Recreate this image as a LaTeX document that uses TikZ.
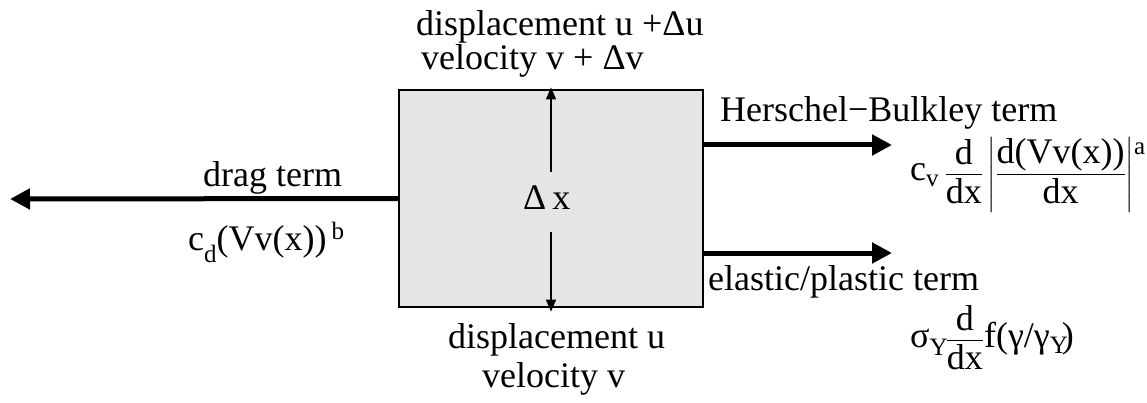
\documentclass[tikz,border=0pt]{standalone}
\usepackage{amsmath}
\usepackage{fontspec}
\setmainfont{Liberation Serif}
\usetikzlibrary{arrows.meta}
\newcommand{\sbx}[2]{\raisebox{#1}{\fontsize{25}{25}\selectfont #2}}
\begin{document}
\begin{tikzpicture}[x=1pt,y=-1pt,
  lbl/.style={inner sep=0pt, anchor=base west, font=\fontsize{36}{40}\selectfont},
  bigarrow/.style={line width=5pt, -{Triangle[length=20pt,width=20pt]}},
  thinarrow/.style={line width=1.5pt, -{Triangle[length=12pt,width=10pt]}},
  cell/.style={draw=black, line width=1.2pt, fill=gray!20, minimum width=304pt, minimum height=217pt, inner sep=0pt}]
\useasboundingbox (0,0) rectangle (1147,403);
% element
\node[cell] (box) at (551,198.5) {};
% labels
\node[lbl] (top1) at (416,36) {displacement u +Δu};
\node[lbl] (top2) at (421,70) {velocity v + Δv};
\node[lbl] (bot1) at (448,348) {displacement u};
\node[lbl] (bot2) at (482,387) {velocity v};
\node[lbl] (dx) at (523,210) {Δ\hspace{6pt}x};
\node[lbl] (drag) at (203,187) {drag term};
\node[lbl] (dragf) at (188,250) {c\sbx{-13pt}{d}(Vv(x))\hspace{5pt}\sbx{10pt}{b}};
\node[lbl] (hb) at (720,122) {Herschel−Bulkley term};
\node[lbl] (hbf) at (910,181) {c\sbx{-6pt}{v}\,$\dfrac{\text{d}}{\text{dx}}\left|\dfrac{\text{d(Vv(x))}}{\text{dx}}\right|$\sbx{26pt}{a}};
\node[lbl] (ep) at (708,290) {elastic/plastic term};
\node[lbl] (epf) at (910,347) {σ\sbx{-8pt}{Y}\kern-2pt$\dfrac{\text{d}}{\text{dx}}$f(γ/γ\sbx{-6pt}{Y}\kern-6pt)};
% connectors
\coordinate (dragEnd) at (10,199);
\coordinate (hbEnd) at (892,145);
\coordinate (epEnd) at (892,253);
\coordinate (vtop) at (551,172);
\coordinate (vbot) at (551,232);
\draw[bigarrow] (box.west) -- (dragEnd);
\draw[bigarrow] (box.east |- hbEnd) -- (hbEnd);
\draw[bigarrow] (box.east |- epEnd) -- (epEnd);
\draw[thinarrow, shorten >=-2pt] (vtop) -- (box.north);
\draw[thinarrow, shorten >=-4pt] (vbot) -- (box.south);
\end{tikzpicture}
\end{document}
